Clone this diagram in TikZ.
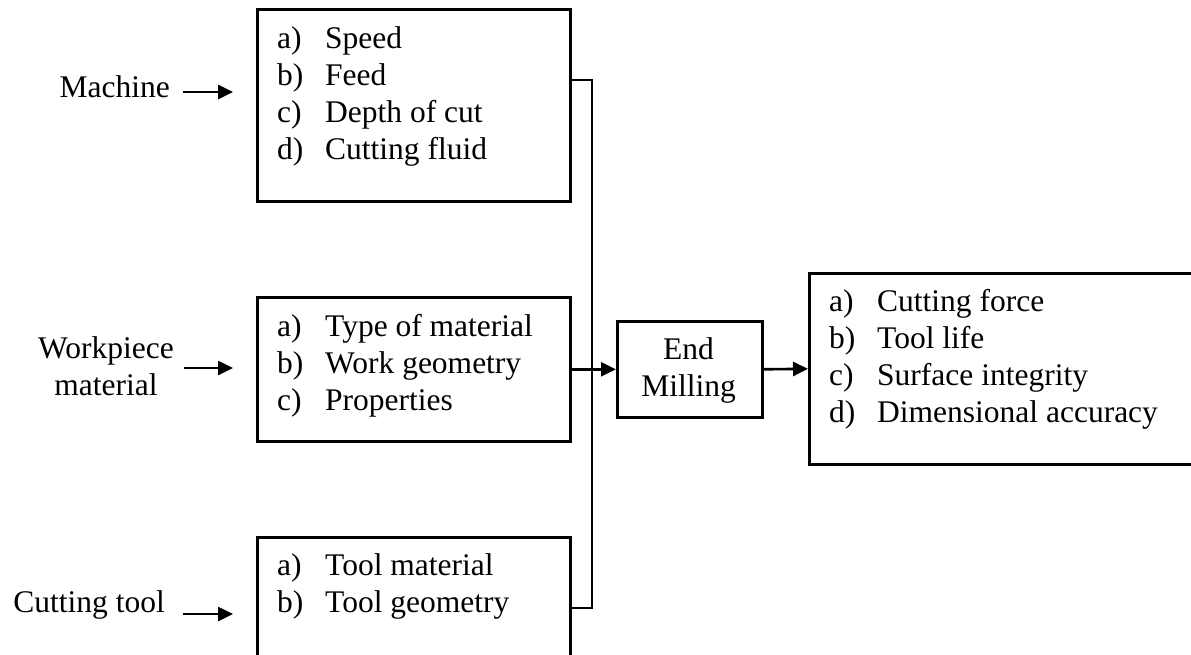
\documentclass[tikz,border=0pt]{standalone}
\usepackage{fontspec}
\setmainfont{Liberation Serif}
\usetikzlibrary{arrows.meta}
\newcommand{\itm}[2]{\makebox[48pt][l]{#1}#2}
\begin{document}
\begin{tikzpicture}[x=1pt,y=-1pt,
  box/.style={draw, line width=2.6pt, rectangle, inner sep=0pt, anchor=north west},
  conn/.style={line width=2.6pt},
  arr/.style={line width=2.6pt, -{Triangle[length=15pt,width=14pt]}},
  txt/.style={inner sep=0pt, font=\fontsize{31.5}{37}\selectfont}]
\useasboundingbox (0,0) rectangle (1191,654);
\clip (0,0) rectangle (1191,654);
% boxes
\node[box, minimum width=313pt, minimum height=192pt] (top) at (256,8) {};
\node[box, minimum width=313pt, minimum height=144pt] (mid) at (256,296) {};
\node[box, minimum width=313pt, minimum height=150pt] (bot) at (256,536) {};
\node[box, minimum width=145pt, minimum height=96pt] (em) at (616,320) {};
\node[box, minimum width=400pt, minimum height=191pt] (res) at (808,272) {};
% box texts
\node[txt, anchor=base west] (toptxt) at (277,48) {\begin{tabular}[t]{@{}l@{}}\itm{a)}{Speed}\\\itm{b)}{Feed}\\\itm{c)}{Depth of cut}\\\itm{d)}{Cutting fluid}\end{tabular}};
\node[txt, anchor=base west] (midtxt) at (277,336) {\begin{tabular}[t]{@{}l@{}}\itm{a)}{Type of material}\\\itm{b)}{Work geometry}\\\itm{c)}{Properties}\end{tabular}};
\node[txt, anchor=base west] (bottxt) at (277,575) {\begin{tabular}[t]{@{}l@{}}\itm{a)}{Tool material}\\\itm{b)}{Tool geometry}\end{tabular}};
\node[txt, anchor=base west] (restxt) at (829,311) {\begin{tabular}[t]{@{}l@{}}\itm{a)}{Cutting force}\\\itm{b)}{Tool life}\\\itm{c)}{Surface integrity}\\\itm{d)}{Dimensional accuracy}\end{tabular}};
\node[txt, anchor=base] (emtxt) at (688.5,359) {\begin{tabular}[t]{@{}c@{}}End\\Milling\end{tabular}};
% left labels
\node[txt, anchor=base east] (mach) at (170,97) {Machine};
\node[txt, anchor=base] (work) at (106,358) {\begin{tabular}[t]{@{}c@{}}Workpiece\\material\end{tabular}};
\node[txt, anchor=base east] (ctool) at (165,612) {Cutting tool};
% input arrows
\coordinate (m1) at (183,92); \coordinate (m2) at (233,92);
\coordinate (w1) at (184,368); \coordinate (w2) at (233,368);
\coordinate (c1) at (183,614); \coordinate (c2) at (233,614);
\draw[arr] (m1) -- (m2);
\draw[arr] (w1) -- (w2);
\draw[arr] (c1) -- (c2);
% collector
\coordinate (j1) at (592,80);
\coordinate (j2) at (592,608);
\draw[conn] (j1 -| top.east) -- (j1) -- (j2) -- (j2 -| bot.east);
\draw[arr] (mid.east) -- (em.west);
\draw[arr] (em.east) -- (res.west);
\end{tikzpicture}
\end{document}
